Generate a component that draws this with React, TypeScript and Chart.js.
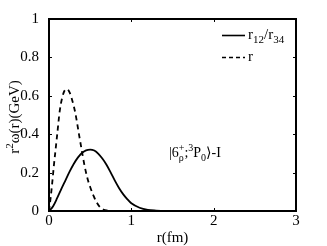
import React, { useEffect, useRef } from "react";
import { Chart, registerables } from "chart.js";

Chart.register(...registerables);

const rSolid = [0, 0.05, 0.1, 0.15, 0.2, 0.25, 0.3, 0.35, 0.4, 0.45, 0.5, 0.55, 0.6, 0.65, 0.7, 0.75, 0.8, 0.85, 0.9, 0.95, 1.0, 1.1, 1.2, 1.3, 1.4, 2.0, 3.0];
const wSolid = [0, 0.025, 0.068, 0.115, 0.16, 0.205, 0.245, 0.278, 0.302, 0.316, 0.32, 0.315, 0.298, 0.272, 0.24, 0.2, 0.158, 0.12, 0.088, 0.062, 0.04, 0.017, 0.006, 0.002, 0, 0, 0];

const rDashed = [0, 0.02, 0.04, 0.06, 0.08, 0.1, 0.13, 0.16, 0.19, 0.22, 0.25, 0.28, 0.32, 0.36, 0.39, 0.43, 0.47, 0.5, 0.54, 0.58, 0.62, 0.66, 0.7, 0.8, 1.0, 2.0, 3.0];
const wDashed = [0, 0.07, 0.15, 0.24, 0.32, 0.4, 0.52, 0.59, 0.628, 0.635, 0.618, 0.58, 0.51, 0.41, 0.335, 0.24, 0.165, 0.125, 0.08, 0.045, 0.02, 0.008, 0.003, 0, 0, 0, 0];

const xTicks = [0, 1, 2, 3];
const yTicks = [0, 0.2, 0.4, 0.6, 0.8, 1];
const yTickLabels = ["0", "0.2", "0.4", "0.6", "0.8", "1"];

const FONT = "'Liberation Serif', 'DejaVu Serif', serif";

type Part = { t: string; k: "n" | "sup" | "sub" | "stack"; t2?: string };

function drawParts(ctx: CanvasRenderingContext2D, parts: Part[], x: number, y: number, size: number, measureOnly = false) {
  const small = Math.round(size * 0.72);
  let cx = x;
  for (const p of parts) {
    if (p.k === "n") {
      ctx.font = `${size}px ${FONT}`;
      if (!measureOnly) ctx.fillText(p.t, cx, y);
      cx += ctx.measureText(p.t).width;
    } else if (p.k === "sup") {
      ctx.font = `${small}px ${FONT}`;
      if (!measureOnly) ctx.fillText(p.t, cx, y - size * 0.4);
      cx += ctx.measureText(p.t).width;
    } else if (p.k === "sub") {
      ctx.font = `${small}px ${FONT}`;
      if (!measureOnly) ctx.fillText(p.t, cx, y + size * 0.28);
      cx += ctx.measureText(p.t).width;
    } else {
      ctx.font = `${small}px ${FONT}`;
      const w1 = ctx.measureText(p.t).width;
      const w2 = ctx.measureText(p.t2 || "").width;
      if (!measureOnly) {
        ctx.fillText(p.t, cx, y - size * 0.4);
        ctx.fillText(p.t2 || "", cx, y + size * 0.3);
      }
      cx += Math.max(w1, w2);
    }
  }
  return cx - x;
}

const decorPlugin = {
  id: "decor",
  afterDraw(chart: any) {
    const ctx: CanvasRenderingContext2D = chart.ctx;
    const { left, right, top, bottom } = chart.chartArea;
    const xs = chart.scales.x;
    const ys = chart.scales.y;
    ctx.save();
    ctx.strokeStyle = "#000";
    ctx.fillStyle = "#000";
    ctx.lineWidth = 1;
    const tl = 3;
    ctx.beginPath();
    for (const v of xTicks) {
      const px = Math.round(xs.getPixelForValue(v)) + 0.5;
      ctx.moveTo(px, bottom); ctx.lineTo(px, bottom - tl);
      ctx.moveTo(px, top); ctx.lineTo(px, top + tl);
    }
    for (const v of yTicks) {
      const py = Math.round(ys.getPixelForValue(v)) + 0.5;
      ctx.moveTo(left, py); ctx.lineTo(left + tl, py);
      ctx.moveTo(right, py); ctx.lineTo(right - tl, py);
    }
    ctx.stroke();
    ctx.lineWidth = 2;
    ctx.strokeRect(left, top, right - left, bottom - top);

    ctx.textBaseline = "alphabetic";
    ctx.textAlign = "left";
    ctx.font = `15px ${FONT}`;
    const xt = "r(fm)";
    const xw = ctx.measureText(xt).width;
    ctx.fillText(xt, (left + right) / 2 - xw / 2, 242);

    const yParts: Part[] = [
      { t: "r", k: "n" },
      { t: "2", k: "sup" },
      { t: "ω(r)(GeV)", k: "n" },
    ];
    ctx.save();
    ctx.translate(19, 117);
    ctx.rotate(-Math.PI / 2);
    const yw = drawParts(ctx, yParts, 0, 0, 15, true);
    drawParts(ctx, yParts, -yw / 2, 0, 15);
    ctx.restore();

    ctx.lineWidth = 1.6;
    ctx.beginPath();
    ctx.moveTo(222, 35.5); ctx.lineTo(245, 35.5);
    ctx.stroke();
    ctx.setLineDash([4, 3]);
    ctx.beginPath();
    ctx.moveTo(222, 57.5); ctx.lineTo(245, 57.5);
    ctx.stroke();
    ctx.setLineDash([]);
    drawParts(ctx, [
      { t: "r", k: "n" },
      { t: "12", k: "sub" },
      { t: "/r", k: "n" },
      { t: "34", k: "sub" },
    ], 248, 39, 15);
    drawParts(ctx, [{ t: "r", k: "n" }], 248, 61, 15);

    drawParts(ctx, [
      { t: "|6", k: "n" },
      { t: "+", k: "stack", t2: "ρ" },
      { t: ";", k: "n" },
      { t: "3", k: "sup" },
      { t: "P", k: "n" },
      { t: "0", k: "sub" },
      { t: "⟩-I", k: "n" },
    ], 169, 157, 14);
    ctx.restore();
  },
};

export default function App() {
  const ref = useRef<HTMLCanvasElement | null>(null);
  useEffect(() => {
    if (!ref.current) return;
    const chart = new Chart(ref.current, {
      type: "line",
      data: {
        datasets: [
          {
            label: "r12/r34",
            data: rSolid.map((r, i) => ({ x: r, y: wSolid[i] })),
            borderColor: "#000",
            borderWidth: 1.8,
            pointRadius: 0,
            cubicInterpolationMode: "monotone",
            fill: false,
          },
          {
            label: "r",
            data: rDashed.map((r, i) => ({ x: r, y: wDashed[i] })),
            borderColor: "#000",
            borderWidth: 1.8,
            borderDash: [5, 4],
            pointRadius: 0,
            cubicInterpolationMode: "monotone",
            fill: false,
          },
        ],
      },
      options: {
        animation: false,
        responsive: true,
        maintainAspectRatio: false,
        layout: { padding: { top: 19, right: 31, left: 0, bottom: 0 } },
        plugins: { legend: { display: false }, tooltip: { enabled: false } },
        scales: {
          x: {
            type: "linear",
            min: 0,
            max: 3,
            afterFit: (s: any) => { s.height = 35; },
            afterBuildTicks: (s: any) => { s.ticks = xTicks.map((v) => ({ value: v })); },
            grid: { display: false },
            border: { display: false },
            ticks: { color: "#000", font: { family: FONT, size: 15 }, padding: -7, maxRotation: 0 },
          },
          y: {
            type: "linear",
            min: 0,
            max: 1,
            afterFit: (s: any) => { s.width = 49; },
            afterBuildTicks: (s: any) => { s.ticks = yTicks.map((v) => ({ value: v })); },
            grid: { display: false },
            border: { display: false },
            ticks: {
              color: "#000",
              font: { family: FONT, size: 15 },
              padding: 2,
              callback: (_v: any, i: number) => yTickLabels[i],
            },
          },
        },
      },
      plugins: [decorPlugin],
    } as any);
    return () => chart.destroy();
  }, []);
  return (
    <div style={{ position: "fixed", left: 0, top: 0, width: 327, height: 246, background: "#fff" }}>
      <canvas ref={ref} />
    </div>
  );
}
